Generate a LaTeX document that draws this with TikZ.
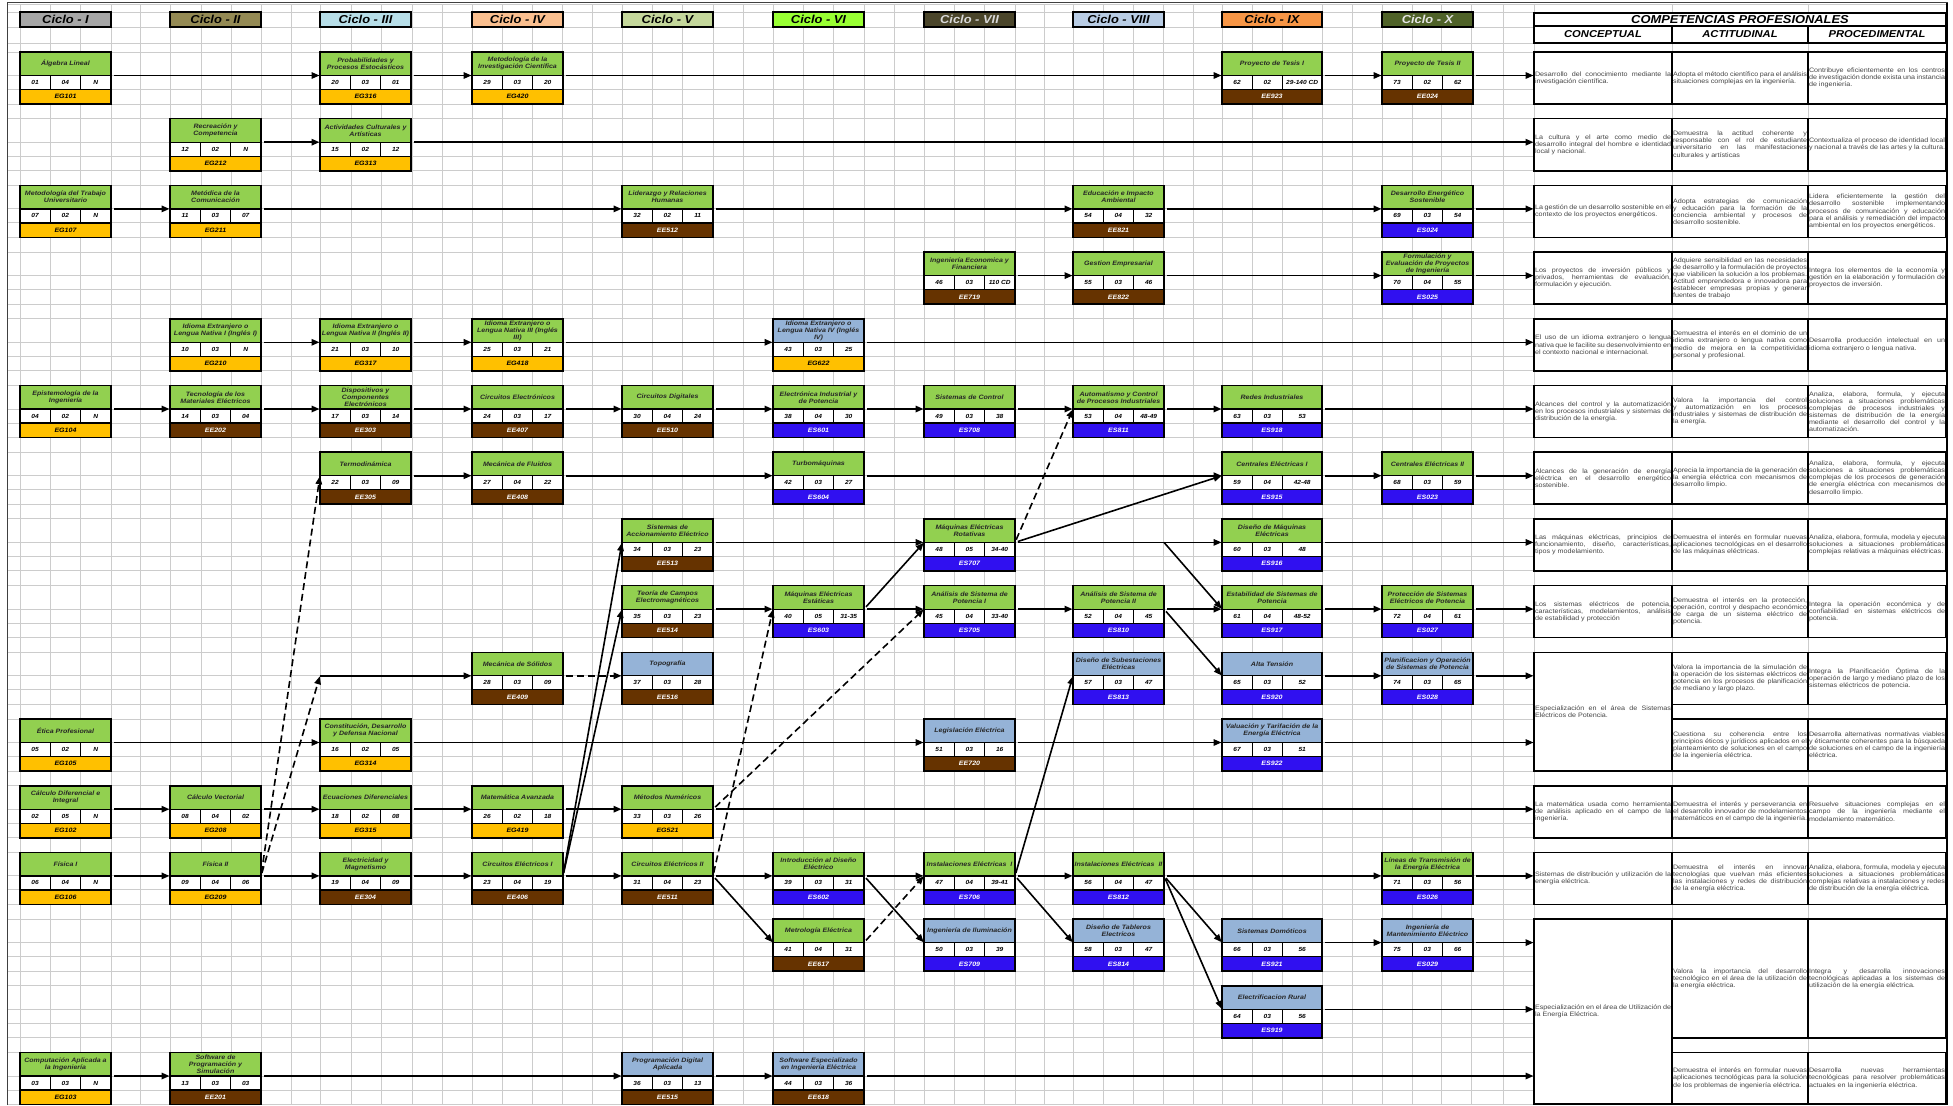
\documentclass[tikz,border=0pt]{standalone}
\usepackage{fontspec}
\setmainfont{Liberation Sans}[FakeStretch=1.12]
\usetikzlibrary{arrows.meta,positioning}

\hyphenpenalty=10000
\exhyphenpenalty=10000
\tolerance=9999

\definecolor{verde}{HTML}{92D050}
\definecolor{celeste}{HTML}{95B3D7}
\definecolor{amarillo}{HTML}{FFC000}
\definecolor{marron}{HTML}{663300}
\definecolor{azul}{HTML}{3010F0}
\definecolor{cI}{HTML}{A6A6A6}
\definecolor{cII}{HTML}{948A54}
\definecolor{cIII}{HTML}{B7DEE8}
\definecolor{cIV}{HTML}{FABF8F}
\definecolor{cV}{HTML}{C4D79B}
\definecolor{cVI}{HTML}{99FF33}
\definecolor{cVII}{HTML}{4A452A}
\definecolor{cVIII}{HTML}{B8CCE4}
\definecolor{cIX}{HTML}{F79646}
\definecolor{cX}{HTML}{4F6228}

\newcommand{\ftit}{\bfseries\itshape\fontsize{6.3}{7}\selectfont}
\newcommand{\fnum}{\bfseries\itshape\fontsize{5.9}{6}\selectfont}
\newcommand{\fcomp}{\fontsize{6.4}{7.1}\selectfont}

% columna de cada ciclo: borde izquierdo y ancho
\newcommand{\ponx}[1]{\def\cw{91}\ifcase#1\or\def\cx{20}\or\def\cx{170}\or\def\cx{320}\or\def\cx{472}\or\def\cx{622}\or\def\cx{773}\or\def\cx{924}\or\def\cx{1073}\or\def\cx{1222}\def\cw{100}\or\def\cx{1382}\fi}

% color del codigo segun su prefijo
\def\tipocod#1#2#3\relax{\csname cod#1#2\endcsname}
\newcommand{\codEG}{\def\cfill{amarillo}\def\ctext{black}}
\newcommand{\codEE}{\def\cfill{marron}\def\ctext{white}}
\newcommand{\codES}{\def\cfill{azul}\def\ctext{white}}

% [color titulo]{nombre}{ciclo}{fila}{titulo}{n1}{n2}{n3}{codigo}
\newcommand{\curso}[9][verde]{%
  \ponx{#3}\tipocod#9\relax
  \pgfmathsetmacro{\cy}{52+66.7*(#4-1)}%
  \pgfmathsetmacro{\cwc}{\cw-60.4}%
  \node[titulo, fill=#1, minimum width=\cw pt] (#2) at (\cx,\cy) {#5};
  \node[numero, minimum width=30.2pt] (#2-a) at (\cx,\cy+23.5) {#6};
  \node[numero, minimum width=30.2pt, right=0pt of #2-a] (#2-b) {#7};
  \node[numero, minimum width=\cwc pt, right=0pt of #2-b] (#2-c) {#8};
  \node[codigo, fill=\cfill, text=\ctext, minimum width=\cw pt] (#2-cod) at (\cx,\cy+37.5) {#9};
  \draw[marco] (#2.north west) rectangle (#2-cod.south east);
}

% {nombre}{x}{ancho}{arriba}{abajo}{texto}
\newcommand{\celda}[6]{%
  \pgfmathsetmacro{\celalto}{#5-#4}%
  \pgfmathsetmacro{\celtexto}{#3-2}%
  \node[celda, minimum width=#3pt, minimum height=\celalto pt, text width=\celtexto pt] (#1) at (#2,#4) {#6};
}

% {fila}{conceptual}{actitudinal}{procedimental}
\newcommand{\fila}[4]{%
  \pgfmathsetmacro{\fy}{52+66.7*(#1-1)}%
  \pgfmathsetmacro{\fb}{\fy+52}%
  \celda{con#1}{1534}{138}{\fy}{\fb}{#2}
  \celda{act#1}{1672}{136}{\fy}{\fb}{#3}
  \celda{pro#1}{1808}{138}{\fy}{\fb}{#4}
}

\begin{document}
\begin{tikzpicture}[
    x=1pt, y=-1pt,
    rejilla/.style={gray!40, line width=0.9pt},
    ciclo/.style={draw, line width=1.5pt, anchor=north west, minimum height=15pt, inner sep=0pt, outer sep=0pt, font=\bfseries\itshape\fontsize{11.5}{13}\selectfont},
    titulo/.style={draw, line width=1.2pt, anchor=north west, minimum height=23.5pt, inner sep=1pt, outer sep=0pt, align=center, text=black!85, font=\ftit},
    numero/.style={draw, line width=0.8pt, fill=white, anchor=north west, minimum height=14pt, inner sep=0pt, outer sep=0pt, font=\fnum},
    codigo/.style={draw, line width=1.2pt, anchor=north west, minimum height=14.5pt, inner sep=0pt, outer sep=0pt, font=\ftit},
    marco/.style={line width=1.6pt},
    cabeza/.style={draw, line width=1.6pt, fill=white, anchor=north west, minimum height=13pt, inner sep=0pt, outer sep=0pt, font=\bfseries\itshape\fontsize{11.5}{13}\selectfont},
    subcabeza/.style={draw, line width=1.6pt, fill=white, anchor=north west, minimum height=17pt, inner sep=0pt, outer sep=0pt, font=\bfseries\itshape\fontsize{10}{12}\selectfont},
    celda/.style={draw, line width=1.6pt, fill=white, anchor=north west, inner sep=1pt, outer sep=0pt, align=justify, text=black!72, font=\fcomp},
    flecha/.style={-{Triangle[length=8pt,width=6.5pt]}, line width=1.6pt, shorten <=3pt, shorten >=0.5pt},
    trazos/.style={flecha, dash pattern=on 7pt off 4pt}
]

\useasboundingbox (0,0) rectangle (1953,1105);
\fill[white] (0,0) rectangle (1953,1105);

% Rejilla
\foreach \y in {4,12,27,43}
  \draw[rejilla] (7,\y) -- (1946,\y);
\foreach \r in {0,...,15}
  \foreach \d in {0,23.5,37.5,52}
    \draw[rejilla] (7,{52+66.7*\r+\d}) -- (1946,{52+66.7*\r+\d});
\foreach \x in {20,50,80,111,140,170,201,231,261,291,320,351,381,412,442,472,502,532,562,592,622,652,682,713,743,773,803,833,864,894,924,954,984,1015,1044,1073,1103,1133,1163,1193,1222,1252,1282,1322,1352,1382,1412,1441,1471,1503,1534,1672,1808}
  \draw[rejilla] (\x,4) -- (\x,1105);
\draw[line width=1pt, black!75] (7,1105) -- (7,3) -- (1948,3);
\draw[line width=2pt] (1947,3) -- (1947,1105);

% Ciclos
\foreach \n/\lab/\fondo/\letra in {1/I/cI/black, 2/II/cII/black, 3/III/cIII/black, 4/IV/cIV/black, 5/V/cV/black, 6/VI/cVI/black, 7/VII/cVII/white!85!black, 8/VIII/cVIII/black, 9/IX/cIX/black, 10/X/cX/white!90!black}{
  \ponx{\n}
  \node[ciclo, fill=\fondo, text=\letra, minimum width=\cw pt] (ciclo\n) at (\cx,12) {Ciclo - \lab};
}

% Cursos
\curso{alg}{1}{1}{Álgebra Lineal}{01}{04}{N}{EG101}
\curso{prob}{3}{1}{Probabilidades y\\Procesos Estocásticos}{20}{03}{01}{EG316}
\curso{metinv}{4}{1}{Metodología de la\\Investigación Científica}{29}{03}{20}{EG420}
\curso{tes1}{9}{1}{Proyecto de Tesis I}{62}{02}{29-140 CD}{EE923}
\curso{tes2}{10}{1}{Proyecto de Tesis II}{73}{02}{62}{EE024}

\curso{recre}{2}{2}{Recreación y\\Competencia}{12}{02}{N}{EG212}
\curso{activ}{3}{2}{Actividades Culturales y\\Artísticas}{15}{02}{12}{EG313}

\curso{mettrab}{1}{3}{Metodología del Trabajo\\Universitario}{07}{02}{N}{EG107}
\curso{metod}{2}{3}{Metódica de la\\Comunicación}{11}{03}{07}{EG211}
\curso{lider}{5}{3}{Liderazgo y Relaciones\\Humanas}{32}{02}{11}{EE512}
\curso{educ}{8}{3}{Educación e Impacto\\Ambiental}{54}{04}{32}{EE821}
\curso{desen}{10}{3}{Desarrollo Energético\\Sostenible}{69}{03}{54}{ES024}

\curso{ingeco}{7}{4}{Ingeniería Economica y\\Financiera}{46}{03}{110 CD}{EE719}
\curso{gestion}{8}{4}{Gestion Empresarial}{55}{03}{46}{EE822}
\curso{formul}{10}{4}{Formulación y\\Evaluación de Proyectos\\de Ingeniería}{70}{04}{55}{ES025}

\curso{idi1}{2}{5}{Idioma Extranjero o\\Lengua Nativa I (Inglés I)}{10}{03}{N}{EG210}
\curso{idi2}{3}{5}{Idioma Extranjero o\\Lengua Nativa II (Inglés II)}{21}{03}{10}{EG317}
\curso{idi3}{4}{5}{Idioma Extranjero o\\Lengua Nativa III (Inglés\\III)}{25}{03}{21}{EG418}
\curso[celeste]{idi4}{6}{5}{Idioma Extranjero o\\Lengua Nativa IV (Inglés\\IV)}{43}{03}{25}{EG622}

\curso{epist}{1}{6}{Epistemología de la\\Ingeniería}{04}{02}{N}{EG104}
\curso{tecmat}{2}{6}{Tecnología de los\\Materiales Eléctricos}{14}{03}{04}{EE202}
\curso{dispos}{3}{6}{Dispositivos y\\Componentes\\Electrónicos}{17}{03}{14}{EE303}
\curso{circelec}{4}{6}{Circuitos Electrónicos}{24}{03}{17}{EE407}
\curso{circdig}{5}{6}{Circuitos Digitales}{30}{04}{24}{EE510}
\curso{elecind}{6}{6}{Electrónica Industrial y\\de Potencia}{38}{04}{30}{ES601}
\curso{sistcon}{7}{6}{Sistemas de Control}{49}{03}{38}{ES708}
\curso{automat}{8}{6}{Automatismo y Control\\de Procesos Industriales}{53}{04}{48-49}{ES811}
\curso{redes}{9}{6}{Redes Industriales}{63}{03}{53}{ES918}

\curso{termo}{3}{7}{Termodinámica}{22}{03}{09}{EE305}
\curso{fluidos}{4}{7}{Mecánica de Fluidos}{27}{04}{22}{EE408}
\curso{turbo}{6}{7}{Turbomáquinas}{42}{03}{27}{ES604}
\curso{cent1}{9}{7}{Centrales Eléctricas I}{59}{04}{42-48}{ES915}
\curso{cent2}{10}{7}{Centrales Eléctricas II}{68}{03}{59}{ES023}

\curso{accion}{5}{8}{Sistemas de\\Accionamiento Eléctrico}{34}{03}{23}{EE513}
\curso{rotat}{7}{8}{Máquinas Eléctricas\\Rotativas}{48}{05}{34-40}{ES707}
\curso{dismaq}{9}{8}{Diseño de Máquinas\\Eléctricas}{60}{03}{48}{ES916}

\curso{campos}{5}{9}{Teoría de Campos\\Electromagnéticos}{35}{03}{23}{EE514}
\curso{estat}{6}{9}{Máquinas Eléctricas\\Estáticas}{40}{05}{31-35}{ES603}
\curso{asp1}{7}{9}{Análisis de Sistema de\\Potencia I}{45}{04}{33-40}{ES705}
\curso{asp2}{8}{9}{Análisis de Sistema de\\Potencia II}{52}{04}{45}{ES810}
\curso{estab}{9}{9}{Estabilidad de Sistemas de\\Potencia}{61}{04}{48-52}{ES917}
\curso{protec}{10}{9}{Protección de Sistemas\\Eléctricos de Potencia}{72}{04}{61}{ES027}

\curso{solidos}{4}{10}{Mecánica de Sólidos}{28}{03}{09}{EE409}
\curso[celeste]{topo}{5}{10}{Topografía}{37}{03}{28}{EE516}
\curso[celeste]{subest}{8}{10}{Diseño de Subestaciones\\Eléctricas}{57}{03}{47}{ES813}
\curso[celeste]{alta}{9}{10}{Alta Tensión}{65}{03}{52}{ES920}
\curso[celeste]{planif}{10}{10}{Planificacion y Operación\\de Sistemas de Potencia}{74}{03}{65}{ES028}

\curso{etica}{1}{11}{Ética Profesional}{05}{02}{N}{EG105}
\curso{consti}{3}{11}{Constitución, Desarrollo\\y Defensa Nacional}{16}{02}{05}{EG314}
\curso[celeste]{legis}{7}{11}{Legislación Eléctrica}{51}{03}{16}{EE720}
\curso[celeste]{valua}{9}{11}{Valuación y Tarifación de la\\Energía Eléctrica}{67}{03}{51}{ES922}

\curso{calc1}{1}{12}{Cálculo Diferencial e\\Integral}{02}{05}{N}{EG102}
\curso{calcv}{2}{12}{Cálculo Vectorial}{08}{04}{02}{EG208}
\curso{ecdif}{3}{12}{Ecuaciones Diferenciales}{18}{02}{08}{EG315}
\curso{matav}{4}{12}{Matemática Avanzada}{26}{02}{18}{EG419}
\curso{metnum}{5}{12}{Métodos Numéricos}{33}{03}{26}{EG521}

\curso{fis1}{1}{13}{Física I}{06}{04}{N}{EG106}
\curso{fis2}{2}{13}{Física II}{09}{04}{06}{EG209}
\curso{elecmag}{3}{13}{Electricidad y\\Magnetismo}{19}{04}{09}{EE304}
\curso{circ1}{4}{13}{Circuitos Eléctricos I}{23}{04}{19}{EE406}
\curso{circ2}{5}{13}{Circuitos Eléctricos II}{31}{04}{23}{EE511}
\curso{intro}{6}{13}{Introducción al Diseño\\Eléctrico}{39}{03}{31}{ES602}
\curso{inst1}{7}{13}{Instalaciones Eléctricas\ \ I}{47}{04}{39-41}{ES706}
\curso{inst2}{8}{13}{Instalaciones Eléctricas\ \ II}{56}{04}{47}{ES812}
\curso{lineas}{10}{13}{Líneas de Transmisión de\\la Energía Eléctrica}{71}{03}{56}{ES026}

\curso{metro}{6}{14}{Metrología Eléctrica}{41}{04}{31}{EE617}
\curso[celeste]{ilum}{7}{14}{Ingeniería de Iluminación}{50}{03}{39}{ES709}
\curso[celeste]{tableros}{8}{14}{Diseño de Tableros\\Electricos}{58}{03}{47}{ES814}
\curso[celeste]{domot}{9}{14}{Sistemas Domóticos}{66}{03}{56}{ES921}
\curso[celeste]{manten}{10}{14}{Ingeniería de\\Mantenimiento Eléctrico}{75}{03}{66}{ES029}

\curso[celeste]{rural}{9}{15}{Electrificacion Rural}{64}{03}{56}{ES919}

\curso{comp}{1}{16}{Computación Aplicada a\\la Ingeniería}{03}{03}{N}{EG103}
\curso{softp}{2}{16}{Software de\\Programación y\\Simulación}{13}{03}{03}{EE201}
\curso[celeste]{progdig}{5}{16}{Programación Digital\\Aplicada}{36}{03}{13}{EE515}
\curso[celeste]{softe}{6}{16}{Software Especializado\\en Ingeniería Eléctrica}{44}{03}{36}{EE618}

% Competencias profesionales
\node[cabeza, minimum width=412pt] (compet) at (1534,13) {COMPETENCIAS PROFESIONALES};
\node[subcabeza, minimum width=138pt] (conceptual) at (1534,26) {CONCEPTUAL};
\node[subcabeza, minimum width=136pt, right=0pt of conceptual] (actitudinal) {ACTITUDINAL};
\node[subcabeza, minimum width=138pt, right=0pt of actitudinal] (procedimental) {PROCEDIMENTAL};

\fila{1}{Desarrollo del conocimiento mediante la investigación científica.}{Adopta el método científico para el análisis situaciones complejas en la ingeniería.}{Contribuye eficientemente en los centros de investigación donde exista una instancia de ingeniería.}
\fila{2}{La cultura y el arte como medio de desarrollo integral del hombre e identidad local y nacional.}{Demuestra la actitud coherente y responsable con el rol de estudiante universitario en las manifestaciones culturales y artísticas}{Contextualiza el proceso de identidad local y nacional a través de las artes y la cultura.}
\fila{3}{La gestión de un desarrollo sostenible en el contexto de los proyectos energéticos.}{Adopta estrategias de comunicación y educación para la formación de la conciencia ambiental y procesos de desarrollo sostenible.}{Lidera eficientemente la gestión del desarrollo sostenible implementando procesos de comunicación y educación para el análisis y remediación del impacto ambiental en los proyectos energéticos.}
\fila{4}{Los proyectos de inversión públicos y privados, herramientas de evaluación, formulación y ejecución.}{Adquiere sensibilidad en las necesidades de desarrollo y la formulación de proyectos que viabilicen la solución a los problemas. Actitud emprendedora e innovadora para establecer empresas propias y generar fuentes de trabajo}{Integra los elementos de la economía y gestión en la elaboración y formulación de proyectos de inversión.}
\fila{5}{El uso de un idioma extranjero o lengua nativa que le facilite su desenvolvimiento en el contexto nacional e internacional.}{Demuestra el interés en el dominio de un idioma extranjero o lengua nativa como medio de mejora en la competitividad personal y profesional.}{Desarrolla producción intelectual en un idioma extranjero o lengua nativa.}
\fila{6}{Alcances del control y la automatización en los procesos industriales y sistemas de distribución de la energía.}{Valora la importancia del control y automatización en los procesos industriales y sistemas de distribución de la energía.}{Analiza, elabora, formula, y ejecuta soluciones a situaciones problemáticas complejas de procesos industriales y sistemas de distribución de la energía mediante el desarrollo del control y la automatización.}
\fila{7}{Alcances de la generación de energía eléctrica en el desarrollo energético sostenible.}{Aprecia la importancia de la generación de la energía eléctrica con mecanismos de desarrollo limpio.}{Analiza, elabora, formula, y ejecuta soluciones a situaciones problemáticas complejas de los procesos de generación de energía eléctrica con mecanismos de desarrollo limpio.}
\fila{8}{Las máquinas eléctricas, principios de funcionamiento, diseño, características, tipos y modelamiento.}{Demuestra el interés en formular nuevas aplicaciones tecnológicas en el desarrollo de las máquinas eléctricas.}{Analiza, elabora, formula, modela y ejecuta soluciones a situaciones problemáticas complejas relativas a máquinas eléctricas.}
\fila{9}{Los sistemas eléctricos de potencia, características, modelamientos, análisis de estabilidad y protección}{Demuestra el interés en la protección, operación, control y despacho económico de carga de un sistema eléctrico de potencia.}{Integra la operación económica y de confiabilidad en sistemas eléctricos de potencia.}
\celda{con10}{1534}{138}{652.3}{771}{Especialización en el área de Sistemas Eléctricos de Potencia.}
\celda{act10}{1672}{136}{652.3}{704.3}{Valora la importancia de la simulación de la operación de los sistemas eléctricos de potencia en los procesos de planificación de mediano y largo plazo.}
\celda{pro10}{1808}{138}{652.3}{704.3}{Integra la Planificación Óptima de la operación de largo y mediano plazo de los sistemas eléctricos de potencia.}
\celda{act11}{1672}{136}{719}{771}{Cuestiona su coherencia entre los principios éticos y jurídicos aplicados en el planteamiento de soluciones en el campo de la ingeniería eléctrica.}
\celda{pro11}{1808}{138}{719}{771}{Desarrolla alternativas normativas viables y éticamente coherentes para la búsqueda de soluciones en el campo de la ingeniería eléctrica.}
\fila{12}{La matemática usada como herramienta de análisis aplicado en el campo de la ingeniería.}{Demuestra el interés y perseverancia en el desarrollo innovador de modelamientos matemáticos en el campo de la ingeniería.}{Resuelve situaciones complejas en el campo de la ingeniería mediante el modelamiento matemático.}
\fila{13}{Sistemas de distribución y utilización de la energía eléctrica.}{Demuestra el interés en innovar tecnologías que vuelvan más eficientes las instalaciones y redes de distribución de la energía eléctrica.}{Analiza, elabora, formula, modela y ejecuta soluciones a situaciones problemáticas complejas relativas a instalaciones y redes de distribución de la energía eléctrica.}
\celda{con14}{1534}{138}{919.1}{1104}{Especialización en el área de Utilización de la Energía Eléctrica.}
\celda{act14}{1672}{136}{919.1}{1037.8}{Valora la importancia del desarrollo tecnológico en el área de la utilización de la energía eléctrica.}
\celda{pro14}{1808}{138}{919.1}{1037.8}{Integra y desarrolla innovaciones tecnológicas aplicadas a los sistemas de utilización de la energía eléctrica.}
\celda{act16}{1672}{136}{1052.5}{1104}{Demuestra el interés en formular nuevas aplicaciones tecnológicas para la solución de los problemas de ingeniería eléctrica.}
\celda{pro16}{1808}{138}{1052.5}{1104}{Desarrolla nuevas herramientas tecnológicas para resolver problemáticas actuales en la ingeniería eléctrica.}

% Entradas a la tabla
\foreach \r in {1,...,16}
  \coordinate (ent\r) at (1534,{75.5+66.7*(\r-1)});
\coordinate (ms) at (termo.south west |- solidos.south west);
\coordinate (ramal) at (asp2.south east |- rotat.south east);

% Prerrequisitos
\foreach \a/\b in {alg/prob, prob/metinv, metinv/tes1, tes1/tes2,
    recre/activ, mettrab/metod, metod/lider, lider/educ, educ/desen,
    ingeco/gestion, gestion/formul, idi1/idi2, idi2/idi3, idi3/idi4,
    epist/tecmat, tecmat/dispos, dispos/circelec, circelec/circdig, circdig/elecind, elecind/sistcon, sistcon/automat, automat/redes,
    termo/fluidos, fluidos/turbo, turbo/cent1, cent1/cent2,
    accion/rotat, rotat/dismaq,
    campos/estat, estat/asp1, asp1/asp2, asp2/estab, estab/protec,
    alta/planif, etica/consti, consti/legis, legis/valua,
    calc1/calcv, calcv/ecdif, ecdif/matav, matav/metnum,
    fis1/fis2, fis2/elecmag, elecmag/circ1, circ1/circ2, circ2/intro, intro/inst1, inst1/inst2, inst2/lineas,
    domot/manten, comp/softp, softp/progdig, progdig/softe,
    circ1/accion, circ1/campos, estat/rotat, rotat/cent1, asp2/alta, circ2/metro,
    intro/ilum, inst1/tableros, inst1/subest, inst2/domot, inst2/rural}
  \draw[flecha] (\a.south east) -- (\b.south west);
\draw[flecha, shorten <=0pt] (ramal) -- (estab.south west);
\draw[flecha, shorten <=0pt] (ms) -- (solidos.south west);

% Prerrequisitos punteados
\foreach \a/\b in {fis2/termo, solidos/topo, rotat/automat, circ2/estat, metnum/asp1, metro/inst1}
  \draw[trazos] (\a.south east) -- (\b.south west);
\draw[trazos] (fis2.south east) -- (ms);

% Hacia las competencias
\foreach \a/\r in {tes2/1, activ/2, desen/3, formul/4, idi4/5, redes/6, cent2/7, dismaq/8, protec/9, planif/10, valua/11, metnum/12, lineas/13, manten/14, rural/15, softe/16}
  \draw[flecha] (\a.south east) -- (ent\r);

\end{tikzpicture}
\end{document}
